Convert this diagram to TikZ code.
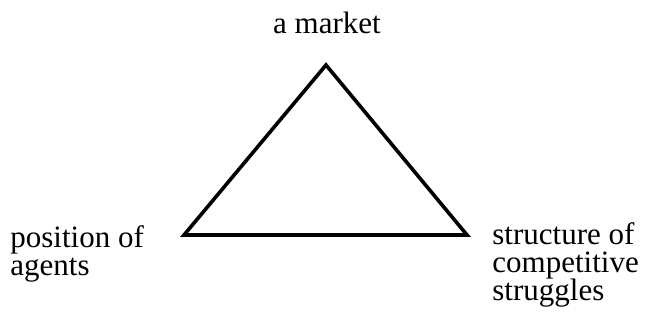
\documentclass[tikz,border=0pt]{standalone}
\usepackage{fontspec}
\setmainfont{Liberation Serif}
\usepackage{tikz}
\setlength{\lineskiplimit}{-20pt}
\tikzset{
  lbl/.style={font=\fontsize{15.5}{13.8}\selectfont, inner sep=0pt, align=left},
}

\begin{document}
\begin{tikzpicture}[x=0.5pt, y=-0.5pt,
  side/.style={line width=1.8pt, line join=miter}, lbl]
  \useasboundingbox (0,0) rectangle (667,323);
  \coordinate (top)   at (326,65);
  \coordinate (left)  at (184,235);
  \coordinate (right) at (467,235);
  \draw[side] (top) -- (left) -- (right) -- cycle;
  \node[anchor=base]      (market) at (327,33)  {a market};
  \node[anchor=base west] (agents) at (10,275)  {position of\\agents};
  \node[anchor=base west] (struct) at (492,300) {structure of\\competitive\\struggles};
\end{tikzpicture}
\end{document}
